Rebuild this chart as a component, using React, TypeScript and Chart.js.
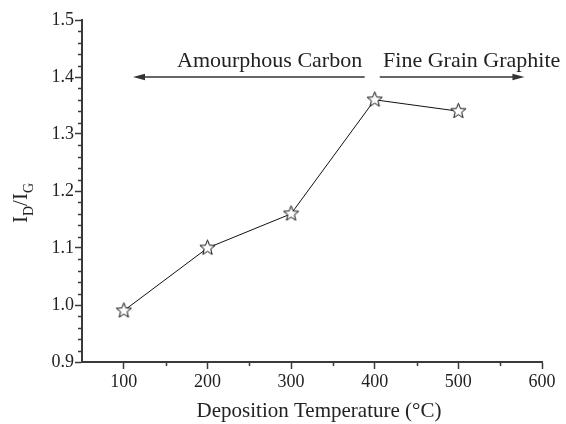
import React, { useEffect, useRef } from 'react';
import { Chart, registerables } from 'chart.js';

Chart.register(...registerables);

// ---- data ----
const temperatures = [100, 200, 300, 400, 500];
const ratioValues = [0.99, 1.10, 1.16, 1.36, 1.34];
const xTickValues = [100, 200, 300, 400, 500, 600];
const xMinorValues = [150, 250, 350, 450, 550];
const yTickValues = [0.9, 1.0, 1.1, 1.2, 1.3, 1.4, 1.5];
const yMinorValues = [0.92, 0.94, 0.96, 0.98, 1.02, 1.04, 1.06, 1.08, 1.12, 1.14, 1.16, 1.18, 1.22, 1.24, 1.26, 1.28, 1.32, 1.34, 1.36, 1.38, 1.42, 1.44, 1.46, 1.48];
const xRange = [50, 600];
const yRange = [0.9, 1.5];
const regionLabels = ['Amourphous Carbon', 'Fine Grain Graphite'];
const arrowLevel = 1.4;
const labelLevel = 1.417;
const leftArrow = [388, 111]; // tail -> head
const rightArrow = [406, 579]; // tail -> head
const leftLabelRightX = 385;
const rightLabelLeftX = 410;
const xTitle = 'Deposition Temperature (°C)';

const FONT = '"Liberation Serif", "Times New Roman", serif';
const TEXT = '#222';
const AXIS = '#3a3a3a';

function makeStar(): HTMLCanvasElement {
  const c = document.createElement('canvas');
  c.width = 19;
  c.height = 19;
  const g = c.getContext('2d')!;
  const cx = 9.5, cy = 9.5, R = 8, r = 3.4;
  g.beginPath();
  for (let i = 0; i < 10; i++) {
    const rad = i % 2 === 0 ? R : r;
    const a = -Math.PI / 2 + (i * Math.PI) / 5;
    const px = cx + rad * Math.cos(a);
    const py = cy + rad * Math.sin(a);
    if (i === 0) g.moveTo(px, py); else g.lineTo(px, py);
  }
  g.closePath();
  g.fillStyle = '#fff';
  g.fill();
  g.lineWidth = 1;
  g.strokeStyle = '#111';
  g.stroke();
  return c;
}

function arrow(ctx: CanvasRenderingContext2D, x0: number, x1: number, y: number) {
  const dir = Math.sign(x1 - x0);
  ctx.save();
  ctx.strokeStyle = '#333';
  ctx.fillStyle = '#333';
  ctx.lineWidth = 1.6;
  ctx.beginPath();
  ctx.moveTo(x0, y);
  ctx.lineTo(x1 - dir * 6, y);
  ctx.stroke();
  ctx.beginPath();
  ctx.moveTo(x1, y);
  ctx.lineTo(x1 - dir * 12, y - 3.2);
  ctx.lineTo(x1 - dir * 12, y + 3.2);
  ctx.closePath();
  ctx.fill();
  ctx.restore();
}

const decorPlugin = {
  id: 'decor',
  afterDraw(chart: any) {
    const ctx: CanvasRenderingContext2D = chart.ctx;
    const xs = chart.scales.x;
    const ys = chart.scales.y;
    const area = chart.chartArea;
    ctx.save();
    // minor ticks
    ctx.strokeStyle = AXIS;
    ctx.lineWidth = 1.5;
    ctx.beginPath();
    for (const v of xMinorValues) {
      const px = Math.round(xs.getPixelForValue(v)) + 0.5;
      ctx.moveTo(px, area.bottom);
      ctx.lineTo(px, area.bottom + 4);
    }
    for (const v of yMinorValues) {
      const py = Math.round(ys.getPixelForValue(v)) + 0.5;
      ctx.moveTo(area.left, py);
      ctx.lineTo(area.left - 4, py);
    }
    ctx.stroke();

    // arrows
    const ay = ys.getPixelForValue(arrowLevel);
    arrow(ctx, xs.getPixelForValue(leftArrow[0]), xs.getPixelForValue(leftArrow[1]), ay);
    arrow(ctx, xs.getPixelForValue(rightArrow[0]), xs.getPixelForValue(rightArrow[1]), ay);

    // region labels
    ctx.fillStyle = TEXT;
    ctx.font = `22px ${FONT}`;
    ctx.textBaseline = 'alphabetic';
    const ly = ys.getPixelForValue(labelLevel);
    ctx.textAlign = 'right';
    ctx.fillText(regionLabels[0], xs.getPixelForValue(leftLabelRightX), ly);
    ctx.textAlign = 'left';
    ctx.fillText(regionLabels[1], xs.getPixelForValue(rightLabelLeftX), ly);

    // x title
    ctx.textAlign = 'center';
    ctx.font = `21px ${FONT}`;
    ctx.fillText(xTitle, (area.left + area.right) / 2 + 7, area.bottom + 55);

    // y title: I_D / I_G
    ctx.translate(27, (area.top + area.bottom) / 2 + 12);
    ctx.rotate(-Math.PI / 2);
    const main = `21px ${FONT}`;
    const sub = `14px ${FONT}`;
    const parts: [string, boolean][] = [['I', false], ['D', true], ['/I', false], ['G', true]];
    let total = 0;
    for (const [t, s] of parts) {
      ctx.font = s ? sub : main;
      total += ctx.measureText(t).width;
    }
    let x = -total / 2;
    ctx.textAlign = 'left';
    for (const [t, s] of parts) {
      ctx.font = s ? sub : main;
      ctx.fillText(t, x, s ? 6 : 0);
      x += ctx.measureText(t).width;
    }
    ctx.restore();
  },
};

export default function App() {
  const ref = useRef<HTMLCanvasElement | null>(null);
  useEffect(() => {
    if (!ref.current) return;
    const star = makeStar();
    const chart = new Chart(ref.current, {
      type: 'line',
      data: {
        datasets: [
          {
            data: temperatures.map((t, i) => ({ x: t, y: ratioValues[i] })),
            borderColor: '#111',
            borderWidth: 1,
            pointStyle: star as any,
            pointRadius: 8,
            pointHoverRadius: 8,
            tension: 0,
            fill: false,
          },
        ],
      },
      options: {
        animation: false,
        responsive: false,
        events: [],
        layout: { padding: { left: 0, right: 24, top: 20, bottom: 0 } },
        plugins: { legend: { display: false }, tooltip: { enabled: false } },
        scales: {
          x: {
            type: 'linear',
            min: xRange[0],
            max: xRange[1],
            afterBuildTicks: (s: any) => {
              s.ticks = xTickValues.map((v) => ({ value: v }));
            },
            afterFit: (s: any) => {
              s.height = 62;
            },
            grid: {
              drawOnChartArea: false,
              drawTicks: true,
              tickLength: 7,
              tickColor: AXIS,
              tickWidth: 1.5,
            },
            border: { display: true, color: AXIS, width: 2 },
            ticks: {
              color: TEXT,
              font: { family: FONT, size: 18 },
              padding: 2,
              maxRotation: 0,
              autoSkip: false,
              callback: (v: any) => String(v),
            },
          },
          y: {
            type: 'linear',
            min: yRange[0],
            max: yRange[1],
            afterBuildTicks: (s: any) => {
              s.ticks = yTickValues.map((v) => ({ value: v }));
            },
            afterFit: (s: any) => {
              s.width = 82;
            },
            grid: {
              drawOnChartArea: false,
              drawTicks: true,
              tickLength: 7,
              tickColor: AXIS,
              tickWidth: 1.5,
            },
            border: { display: true, color: AXIS, width: 2 },
            ticks: {
              color: TEXT,
              font: { family: FONT, size: 18 },
              padding: 1,
              autoSkip: false,
              callback: (v: any) => Number(v).toFixed(1),
            },
          },
        },
      },
      plugins: [decorPlugin],
    });
    return () => chart.destroy();
  }, []);
  return (
    <div style={{ position: 'fixed', left: 0, top: 0, width: 566, height: 424, background: '#fff' }}>
      <canvas ref={ref} width={566} height={424} style={{ display: 'block' }} />
    </div>
  );
}
